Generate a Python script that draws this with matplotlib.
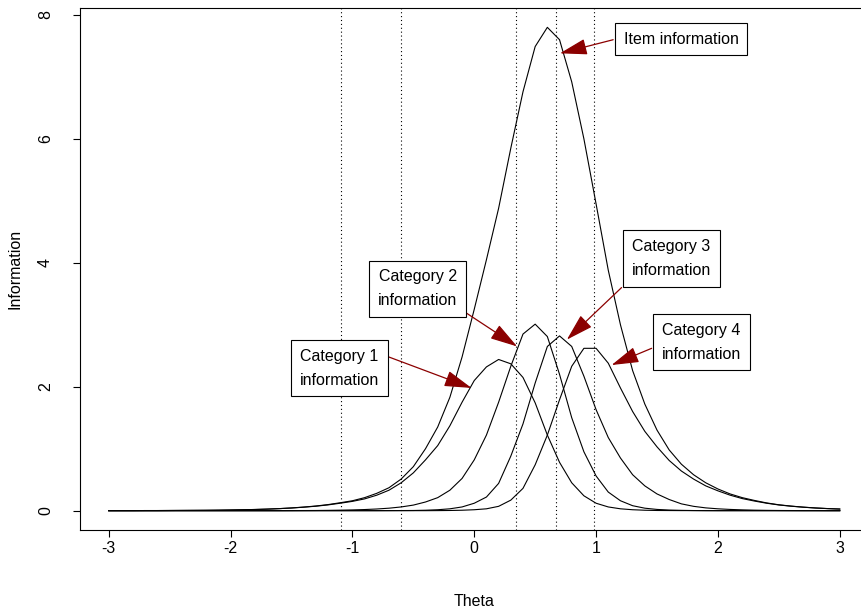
import matplotlib
matplotlib.use("Agg")
import matplotlib.pyplot as plt

plt.rcParams['font.family'] = ['Liberation Sans', 'DejaVu Sans']
plt.rcParams['axes.unicode_minus'] = False

theta = [-3.0, -2.9, -2.8, -2.7, -2.6, -2.5, -2.4, -2.3, -2.2, -2.1,
         -2.0, -1.9, -1.8, -1.7, -1.6, -1.5, -1.4, -1.3, -1.2, -1.1,
         -1.0, -0.9, -0.8, -0.7, -0.6, -0.5, -0.4, -0.3, -0.2, -0.1,
         0.0, 0.1, 0.2, 0.3, 0.4, 0.5, 0.6, 0.7, 0.8, 0.9,
         1.0, 1.1, 1.2, 1.3, 1.4, 1.5, 1.6, 1.7, 1.8, 1.9,
         2.0, 2.1, 2.2, 2.3, 2.4, 2.5, 2.6, 2.7, 2.8, 2.9, 3.0]

item_info = [0.001, 0.001, 0.001, 0.002, 0.002, 0.003, 0.004, 0.005, 0.006, 0.008,
             0.011, 0.015, 0.019, 0.025, 0.033, 0.044, 0.058, 0.075, 0.098, 0.128,
             0.16, 0.21, 0.28, 0.37, 0.51, 0.71, 1.00, 1.35, 1.83, 2.48,
             3.25, 4.05, 4.88, 5.85, 6.76, 7.49, 7.80, 7.60, 6.92, 6.00,
             4.95, 3.88, 3.00, 2.26, 1.72, 1.30, 0.98, 0.75, 0.58, 0.45,
             0.35, 0.27, 0.21, 0.165, 0.125, 0.095, 0.074, 0.057, 0.044, 0.034, 0.026]

cat1_info = [0.001, 0.001, 0.001, 0.002, 0.002, 0.003, 0.004, 0.005, 0.006, 0.008,
             0.011, 0.015, 0.019, 0.025, 0.033, 0.043, 0.056, 0.072, 0.093, 0.12,
             0.15, 0.19, 0.25, 0.33, 0.45, 0.61, 0.82, 1.05, 1.37, 1.75,
             2.10, 2.32, 2.44, 2.37, 2.15, 1.74, 1.22, 0.78, 0.45, 0.24,
             0.12, 0.06, 0.03, 0.015, 0.007, 0.003, 0.002, 0.001, 0.001, 0,
             0, 0, 0, 0, 0, 0, 0, 0, 0, 0, 0]

cat2_info = [0, 0, 0, 0, 0, 0, 0, 0, 0, 0,
             0, 0, 0, 0, 0, 0.001, 0.002, 0.003, 0.005, 0.008,
             0.012, 0.018, 0.027, 0.04, 0.06, 0.09, 0.14, 0.21, 0.33, 0.52,
             0.82, 1.22, 1.75, 2.33, 2.85, 3.01, 2.81, 2.20, 1.50, 0.95,
             0.56, 0.30, 0.16, 0.08, 0.04, 0.02, 0.01, 0.005, 0.002, 0.001,
             0, 0, 0, 0, 0, 0, 0, 0, 0, 0, 0]

cat3_info = [0, 0, 0, 0, 0, 0, 0, 0, 0, 0,
             0, 0, 0, 0, 0, 0, 0, 0, 0, 0,
             0, 0, 0, 0.001, 0.002, 0.003, 0.007, 0.015, 0.03, 0.06,
             0.12, 0.22, 0.44, 0.88, 1.40, 2.06, 2.65, 2.82, 2.65, 2.17,
             1.63, 1.18, 0.85, 0.58, 0.40, 0.27, 0.18, 0.11, 0.07, 0.045,
             0.03, 0.02, 0.013, 0.008, 0.005, 0.003, 0.002, 0.001, 0.001, 0, 0]

cat4_info = [0, 0, 0, 0, 0, 0, 0, 0, 0, 0,
             0, 0, 0, 0, 0, 0, 0, 0, 0, 0,
             0, 0, 0, 0, 0, 0, 0, 0.001, 0.003, 0.007,
             0.015, 0.03, 0.07, 0.17, 0.36, 0.74, 1.22, 1.79, 2.33, 2.62,
             2.62, 2.38, 1.98, 1.60, 1.28, 1.03, 0.81, 0.64, 0.51, 0.40,
             0.32, 0.25, 0.195, 0.155, 0.12, 0.092, 0.072, 0.056, 0.043, 0.033, 0.026]

cut_lines = [-1.09, -0.6, 0.34, 0.67, 0.98]

labels = ["Item information", "Category 1\ninformation", "Category 2\ninformation",
          "Category 3\ninformation", "Category 4\ninformation"]

W, H = 861, 612
fig = plt.figure(figsize=(W / 100, H / 100), dpi=100)
# plot region in pixels: left 79.5, right 869 (cut off), top 8, bottom 530
ax = fig.add_axes([79.5 / W, (H - 530) / H, (869 - 79.5) / W, (530 - 8) / H])

for y in [item_info, cat1_info, cat2_info, cat3_info, cat4_info]:
    ax.plot(theta, y, color="black", lw=0.8)

for c in cut_lines:
    ax.axvline(c, color="black", lw=0.8, linestyle=(0, (1, 2.5)))

ax.set_xlim(-3.24, 3.24)
ax.set_ylim(-0.312, 8.112)
ax.set_xticks([-3, -2, -1, 0, 1, 2, 3])
ax.set_yticks([0, 2, 4, 6, 8])
ax.set_yticklabels(["0", "2", "4", "6", "8"], rotation=90, va="center")
ax.tick_params(direction="out", length=5, width=0.8, labelsize=11.5)
ax.tick_params(axis="x", pad=3)
ax.tick_params(axis="y", pad=14)
for s in ax.spines.values():
    s.set_linewidth(0.8)

ax.set_xlabel("Theta", fontsize=11.5, labelpad=27)
ax.set_ylabel("Information", fontsize=11.5, labelpad=11)

# label box centre, arrow start, arrow tip (data units)
box_pos = [(1.698, 7.61), (-1.106, 2.30), (-0.463, 3.58), (1.616, 4.07), (1.863, 2.72)]
arrow_from = [(1.14, 7.60), (-0.701, 2.48), (-0.104, 3.24), (1.209, 3.60), (1.456, 2.62)]
arrow_to = [(0.703, 7.38), (-0.022, 1.98), (0.352, 2.65), (0.760, 2.76), (1.127, 2.35)]

for lab, bp, a0, a1 in zip(labels, box_pos, arrow_from, arrow_to):
    ax.annotate("", xy=a1, xytext=a0,
                arrowprops=dict(arrowstyle="-|>,head_length=0.85,head_width=0.25",
                                color="#8B0000", lw=0.9, mutation_scale=20,
                                shrinkA=0, shrinkB=0))
    ax.text(bp[0], bp[1], lab, ha="center", va="center", fontsize=11.5,
            linespacing=1.75, zorder=5,
            bbox=dict(boxstyle="square,pad=0.55", fc="white", ec="black", lw=0.8))

fig.savefig("out.png", dpi=100)
